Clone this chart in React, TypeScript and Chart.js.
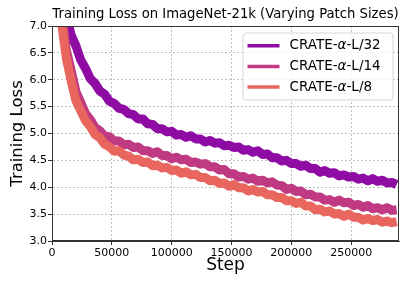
import React, { useEffect, useRef } from "react";
import { Chart, registerables } from "chart.js";

Chart.register(...registerables);

const TITLE = "Training Loss on ImageNet-21k (Varying Patch Sizes)";
const X_TITLE = "Step";
const Y_TITLE = "Training Loss";
const SERIES_NAMES = ["32", "14", "8"];
const SERIES_COLORS = ["#8e0ca4", "#c03a83", "#e8665e"];

const X_TICKS = [0, 50000, 100000, 150000, 200000, 250000];
const Y_TICKS = [3.0, 3.5, 4.0, 4.5, 5.0, 5.5, 6.0, 6.5, 7.0];

const steps = [
  4000, 8000, 12000, 16000, 20000, 24000, 28000, 32000, 36000, 40000, 44000, 48000,
  52000, 56000, 60000, 64000, 68000, 72000, 76000, 80000, 84000, 88000, 92000, 96000,
  100000, 104000, 108000, 112000, 116000, 120000, 124000, 128000, 132000, 136000, 140000, 144000,
  148000, 152000, 156000, 160000, 164000, 168000, 172000, 176000, 180000, 184000, 188000, 192000,
  196000, 200000, 204000, 208000, 212000, 216000, 220000, 224000, 228000, 232000, 236000, 240000,
  244000, 248000, 252000, 256000, 260000, 264000, 268000, 272000, 276000, 280000, 284000, 288000,
];

const lossL32 = [
  8.5, 7.7, 7.2, 6.83, 6.63, 6.37, 6.21, 6.02, 5.93, 5.79, 5.73, 5.6,
  5.56, 5.47, 5.45, 5.37, 5.35, 5.27, 5.27, 5.18, 5.17, 5.09, 5.09, 5.03,
  5.04, 4.97, 4.98, 4.93, 4.96, 4.9, 4.9, 4.84, 4.87, 4.82, 4.83, 4.77,
  4.78, 4.74, 4.75, 4.69, 4.7, 4.65, 4.68, 4.61, 4.62, 4.55, 4.55, 4.49,
  4.5, 4.44, 4.44, 4.39, 4.41, 4.35, 4.35, 4.28, 4.31, 4.26, 4.27, 4.21,
  4.23, 4.19, 4.2, 4.15, 4.17, 4.12, 4.16, 4.11, 4.13, 4.08, 4.09, 4.05,
];

const lossL14 = [
  8.2, 7.3, 6.55, 6.17, 5.78, 5.58, 5.37, 5.26, 5.11, 5.05, 4.95, 4.94,
  4.86, 4.86, 4.79, 4.8, 4.74, 4.75, 4.68, 4.68, 4.63, 4.66, 4.59, 4.59,
  4.53, 4.56, 4.51, 4.52, 4.46, 4.47, 4.43, 4.44, 4.38, 4.38, 4.32, 4.33,
  4.25, 4.25, 4.19, 4.2, 4.15, 4.17, 4.11, 4.13, 4.08, 4.1, 4.04, 4.03,
  3.96, 3.98, 3.92, 3.93, 3.86, 3.87, 3.82, 3.82, 3.76, 3.77, 3.72, 3.76,
  3.71, 3.72, 3.66, 3.68, 3.63, 3.66, 3.6, 3.62, 3.58, 3.62, 3.57, 3.58,
];

const lossL8 = [
  8.0, 7.05, 6.4, 5.98, 5.61, 5.43, 5.24, 5.13, 4.98, 4.92, 4.8, 4.75,
  4.67, 4.68, 4.6, 4.58, 4.51, 4.52, 4.46, 4.47, 4.4, 4.41, 4.36, 4.37,
  4.31, 4.32, 4.26, 4.29, 4.23, 4.24, 4.18, 4.18, 4.12, 4.13, 4.07, 4.08,
  4.02, 4.05, 3.99, 3.99, 3.93, 3.96, 3.91, 3.92, 3.86, 3.86, 3.81, 3.81,
  3.75, 3.75, 3.7, 3.72, 3.65, 3.65, 3.58, 3.59, 3.54, 3.56, 3.5, 3.51,
  3.46, 3.5, 3.44, 3.44, 3.39, 3.42, 3.38, 3.4, 3.35, 3.37, 3.34, 3.36,
];

const SERIES = [lossL32, lossL14, lossL8];

const FONT = '"DejaVu Sans", sans-serif';

const framePlugin = {
  id: "frameAndLegend",
  afterDraw(chart: any) {
    const { ctx, chartArea: a } = chart;
    ctx.save();
    ctx.strokeStyle = "#333333";
    ctx.lineWidth = 1;
    ctx.setLineDash([]);
    ctx.strokeRect(Math.round(a.left) + 0.5, Math.round(a.top) + 0.5, Math.round(a.right - a.left) - 1, Math.round(a.bottom - a.top) - 1);

    ctx.fillStyle = "#000000";
    ctx.font = `13.2px ${FONT}`;
    ctx.textAlign = "center";
    ctx.textBaseline = "middle";
    ctx.fillText(TITLE, (a.left + a.right) / 2, 15);

    const bx = a.right - 156;
    const by = a.top + 7;
    const bw = 150;
    const bh = 67;
    const r = 3;
    ctx.beginPath();
    ctx.moveTo(bx + r, by);
    ctx.lineTo(bx + bw - r, by);
    ctx.quadraticCurveTo(bx + bw, by, bx + bw, by + r);
    ctx.lineTo(bx + bw, by + bh - r);
    ctx.quadraticCurveTo(bx + bw, by + bh, bx + bw - r, by + bh);
    ctx.lineTo(bx + r, by + bh);
    ctx.quadraticCurveTo(bx, by + bh, bx, by + bh - r);
    ctx.lineTo(bx, by + r);
    ctx.quadraticCurveTo(bx, by, bx + r, by);
    ctx.closePath();
    ctx.fillStyle = "rgba(255,255,255,0.8)";
    ctx.fill();
    ctx.strokeStyle = "#d6d6d6";
    ctx.lineWidth = 1;
    ctx.stroke();

    ctx.textAlign = "left";
    ctx.textBaseline = "middle";
    SERIES_NAMES.forEach((name, i) => {
      const y = by + 12.7 + i * 20.7;
      ctx.strokeStyle = SERIES_COLORS[i];
      ctx.lineWidth = 3.5;
      ctx.beginPath();
      ctx.moveTo(bx + 4.5, y);
      ctx.lineTo(bx + 36.5, y);
      ctx.stroke();
      let x = bx + 46.5;
      ctx.fillStyle = "#000000";
      ctx.font = `13.5px ${FONT}`;
      ctx.fillText("CRATE-", x, y);
      x += ctx.measureText("CRATE-").width;
      ctx.font = `italic 13.5px ${FONT}`;
      ctx.fillText("α", x, y);
      x += ctx.measureText("α").width;
      ctx.font = `13.5px ${FONT}`;
      ctx.fillText(`-L/${name}`, x, y);
    });
    ctx.restore();
  },
};

export default function App() {
  const ref = useRef<HTMLCanvasElement>(null);

  useEffect(() => {
    document.body.style.margin = "0";
    const canvas = ref.current;
    if (!canvas) return;
    const datasets = SERIES.map((vals, i) => ({
      label: `CRATE-α-L/${SERIES_NAMES[i]}`,
      data: steps.map((s, k) => ({ x: s, y: vals[k] })),
      borderColor: SERIES_COLORS[i],
      backgroundColor: SERIES_COLORS[i],
      borderWidth: 9,
      pointRadius: 0,
      tension: 0,
      borderJoinStyle: "round" as const,
      clip: 0,
      order: 2 - i,
    }));
    const chart = new Chart(canvas, {
      type: "line",
      data: { datasets },
      options: {
        animation: false,
        responsive: false,
        maintainAspectRatio: false,
        layout: { padding: { top: 26, right: 12, bottom: 0, left: 0 } },
        plugins: {
          legend: { display: false },
          title: { display: false },
          tooltip: { enabled: false },
        },
        scales: {
          x: {
            type: "linear",
            min: 0,
            max: 290000,
            afterFit: (s: any) => {
              s.height = 47;
            },
            afterBuildTicks: (s: any) => {
              s.ticks = X_TICKS.map((v) => ({ value: v }));
            },
            ticks: {
              autoSkip: false,
              maxRotation: 0,
              padding: 2,
              color: "#000000",
              font: { family: FONT, size: 11 },
              callback: (v: any) => String(v),
            },
            grid: {
              color: "#b0b0b0",
              lineWidth: 0.8,
              tickColor: "#333333",
              tickLength: 4,
              tickWidth: 1,
              tickBorderDash: [],
            },
            border: { display: true, color: "#333333", width: 1, dash: [2, 2] },
            title: {
              display: true,
              text: X_TITLE,
              color: "#000000",
              font: { family: FONT, size: 17 },
              padding: { top: 0, bottom: 12 },
            },
          },
          y: {
            type: "linear",
            min: 3,
            max: 7,
            afterFit: (s: any) => {
              s.width = 52;
            },
            afterBuildTicks: (s: any) => {
              s.ticks = Y_TICKS.map((v) => ({ value: v }));
            },
            ticks: {
              autoSkip: false,
              padding: 1,
              color: "#000000",
              font: { family: FONT, size: 11 },
              callback: (v: any) => Number(v).toFixed(1),
            },
            grid: {
              color: "#b0b0b0",
              lineWidth: 0.8,
              tickColor: "#333333",
              tickLength: 4,
              tickWidth: 1,
              tickBorderDash: [],
            },
            border: { display: true, color: "#333333", width: 1, dash: [2, 2] },
            title: {
              display: true,
              text: Y_TITLE,
              color: "#000000",
              font: { family: FONT, size: 16.5 },
              padding: { top: 8, bottom: 0 },
            },
          },
        },
      },
      plugins: [framePlugin],
    });
    return () => chart.destroy();
  }, []);

  return <canvas ref={ref} width={411} height={288} style={{ display: "block" }} />;
}
